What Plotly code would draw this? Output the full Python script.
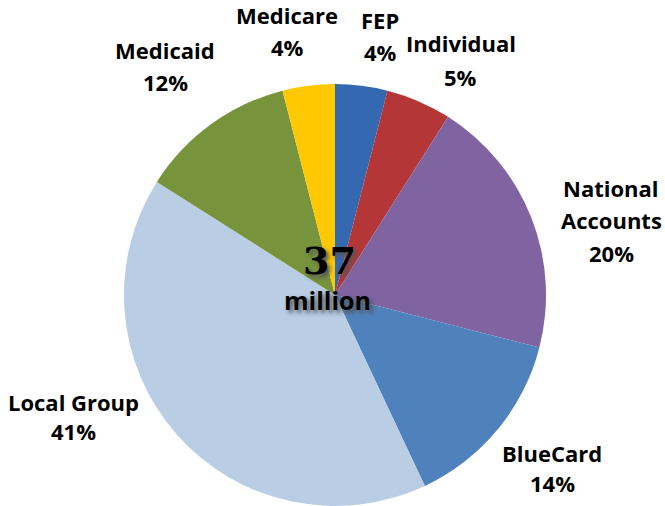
import plotly.graph_objects as go

labels = ["FEP", "Individual", "National Accounts", "BlueCard", "Local Group", "Medicaid", "Medicare"]
values = [4, 5, 20, 14, 41, 12, 4]
colors = ["#3468B0", "#B53636", "#8064A2", "#4F81BD", "#B9CDE5", "#77933C", "#FFC800"]
label_lines = [["FEP"], ["Individual"], ["National", "Accounts"], ["BlueCard"], ["Local Group"], ["Medicaid"], ["Medicare"]]
center_value = "37"
center_unit = "million"

W, H = 665, 506
# label layout in pixels: x center, and y center of each line (from top)
label_x = [380, 461, 611, 552, 73, 165, 287]
label_y = [[20, 52], [43, 77], [188, 220, 253], [453, 483], [402, 431], [50, 82], [15, 47]]

fig = go.Figure(go.Pie(
    labels=labels, values=values, sort=False, direction="clockwise", rotation=0,
    marker=dict(colors=colors, line=dict(color="white", width=0)),
    textinfo="none", hoverinfo="label+percent", showlegend=False,
    domain=dict(x=[124 / W, 546 / W], y=[0, 0.834]),
))

font_lbl = dict(family="'Open Sans', sans-serif", size=22, color="black", weight="bold")
ann = []
for lines, v, px, ys in zip(label_lines, values, label_x, label_y):
    for txt, py in zip(lines + [f"{v}%"], ys):
        ann.append(dict(x=px / W, y=1 - py / H, xref="paper", yref="paper", showarrow=False,
                        text=txt, font=font_lbl, xanchor="center", yanchor="middle"))
ann.append(dict(x=329 / W, y=1 - 260 / H, xref="paper", yref="paper", showarrow=False,
                text=center_value, xanchor="center", yanchor="middle",
                font=dict(family="'DejaVu Serif', serif", size=38, color="black", weight="bold",
                          shadow="3px 3px 4px #555")))
ann.append(dict(x=327 / W, y=1 - 300 / H, xref="paper", yref="paper", showarrow=False,
                text=center_unit, xanchor="center", yanchor="middle",
                font=dict(family="'Open Sans', sans-serif", size=25, color="black", weight="bold",
                          shadow="3px 3px 4px #555")))

fig.update_layout(width=W, height=H, margin=dict(l=0, r=0, t=0, b=0),
                  paper_bgcolor="white", plot_bgcolor="white", annotations=ann)
fig.write_html("out.html", config={"displayModeBar": False},
               post_script="document.body.style.margin='0';document.body.style.overflow='hidden';")
